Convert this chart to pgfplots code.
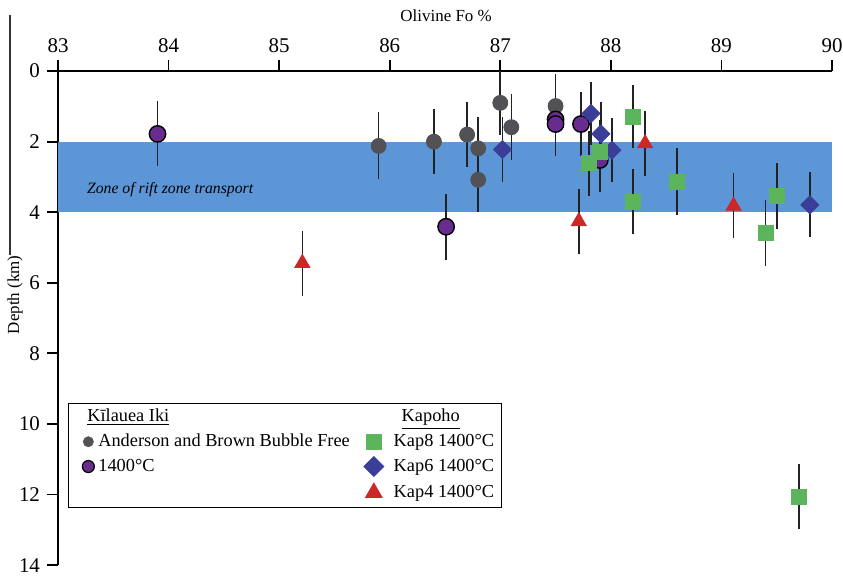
\documentclass[border=0pt]{standalone}
\usepackage{fontspec}
\setmainfont{Liberation Serif}
\usepackage{pgfplots}
\pgfplotsset{compat=1.18}
\usepackage{pgfplotstable}
\definecolor{zoneblue}{RGB}{92,150,214}
\definecolor{abgray}{RGB}{82,82,86}
\definecolor{kpurple}{RGB}{104,44,142}
\definecolor{kblue}{RGB}{58,62,152}
\definecolor{kgreen}{RGB}{92,180,92}
\definecolor{kred}{RGB}{204,40,40}
\definecolor{ebar}{RGB}{34,34,34}

\pgfplotstableread{
x y e
85.90 2.12 0.95
86.40 2.00 0.93
86.70 1.80 0.92
86.80 2.19 0.90
86.80 3.08 0.90
87.00 0.90 0.90
87.10 1.59 0.93
87.50 0.99 0.90
}\abdata
\pgfplotstableread{
x y e
83.90 1.78 0.92
86.51 4.41 0.93
87.50 1.37 0.92
87.50 1.50 0.92
87.73 1.50 0.92
87.90 2.52 0.90
}\kidata
\pgfplotstableread{
x y e
87.02 2.22 0.92
87.82 1.20 0.90
87.91 1.78 0.90
88.01 2.24 0.90
89.80 3.79 0.92
}\kapsix
\pgfplotstableread{
x y e
88.20 1.29 0.90
88.20 3.70 0.92
87.80 2.61 0.92
87.90 2.28 0.90
88.60 3.13 0.94
89.40 4.58 0.93
89.50 3.54 0.93
89.70 12.06 0.93
}\kapeight
\pgfplotstableread{
x y e
85.21 5.44 0.92
87.71 4.26 0.91
88.31 2.05 0.92
89.11 3.82 0.92
}\kapfour

\begin{document}
\begin{tikzpicture}
\begin{axis}[name=ax, scale only axis, width=387bp, height=247bp,
  xmin=83, xmax=90, ymin=0, ymax=14, y dir=reverse,
  axis x line*=top, axis y line*=left,
  xtick={83,...,90}, ytick={0,2,...,14},
  tick align=outside, major tick length=5.5bp,
  every tick/.style={black, line width=0.9bp},
  axis line style={black, line width=0.9bp},
  ticklabel style={font=\fontsize{10.5}{12}\selectfont},
  /pgf/number format/assume math mode=true,
  xlabel={Olivine Fo \%}, ylabel={Depth (km)},
  label style={font=\fontsize{8.5}{10}\selectfont},
  xlabel style={at={(axis cs:86.51,-1.56)}, anchor=center},
  ylabel style={at={(axis cs:82.611,6.34)}, anchor=center},
  clip=false,
  legend columns=2, legend cell align=left,
  legend style={at={(axis cs:83.09,9.40)}, anchor=north west, draw=black,
    fill=white, font=\fontsize{9.2}{11}\selectfont,
    /tikz/every even column/.append style={column sep=1.5bp},
    row sep=0.7bp, inner xsep=1.5bp, inner ysep=0.8bp},
  error bars/error mark=none,
]
\addplot[draw=none, fill=zoneblue, forget plot] coordinates {(83,2) (90,2) (90,4) (83,4)} -- cycle;
\node[anchor=west, font=\fontsize{7.9}{9}\selectfont\itshape] at (axis cs:83.199,3.37) {Zone of rift zone transport};

\addplot[only marks, mark=*, mark size=3.75bp, mark options={fill=abgray, draw=abgray}, forget plot,
  error bars/.cd, y dir=both, y explicit, error bar style={ebar, line width=0.8bp}]
  table[x=x, y=y, y error=e]{\abdata};
\addplot[only marks, mark=*, mark size=4.1bp, mark options={fill=kpurple, draw=black, line width=0.7bp}, forget plot,
  error bars/.cd, y dir=both, y explicit, error bar style={ebar, line width=0.8bp}]
  table[x=x, y=y, y error=e]{\kidata};
\addplot[only marks, mark=square*, mark size=3.2bp, mark options={fill=kblue, draw=kblue, rotate=45}, forget plot,
  error bars/.cd, y dir=both, y explicit, error bar style={ebar, line width=0.8bp}]
  table[x=x, y=y, y error=e]{\kapsix};
\addplot[only marks, mark=square*, mark size=3.75bp, mark options={fill=kgreen, draw=kgreen}, forget plot,
  error bars/.cd, y dir=both, y explicit, error bar style={ebar, line width=0.8bp}]
  table[x=x, y=y, y error=e]{\kapeight};
\addplot[only marks, mark=triangle*, mark size=4.33bp, mark options={fill=kred, draw=kred}, forget plot,
  error bars/.cd, y dir=both, y explicit, error bar style={ebar, line width=0.8bp}]
  table[x=x, y=y, y error=e]{\kapfour};

\draw[black!80, line width=0.6bp] (axis cs:82.566,-1.59) -- (axis cs:82.566,5.2);

\addlegendimage{empty legend}
\addlegendimage{empty legend}
\addlegendimage{only marks, mark=*, mark size=2.5bp, mark options={fill=abgray, draw=abgray}}
\addlegendimage{only marks, mark=square*, mark size=3.75bp, mark options={fill=kgreen, draw=kgreen}}
\addlegendimage{only marks, mark=*, mark size=3bp, mark options={fill=kpurple, draw=black, line width=0.6bp}}
\addlegendimage{only marks, mark=square*, mark size=3.5bp, mark options={fill=kblue, draw=kblue, rotate=45}}
\addlegendimage{empty legend}
\addlegendimage{only marks, mark=triangle*, mark size=4.8bp, mark options={fill=kred, draw=kred}}
\legend{\hspace{-5.5bp}\underline{Kīlauea Iki}, \hspace{7bp}\underline{Kapoho}, Anderson and Brown Bubble Free, \hspace{3bp}Kap8 1400°C, 1400°C, \hspace{3bp}Kap6 1400°C, \strut, \hspace{3bp}Kap4 1400°C}
\end{axis}
\pgfresetboundingbox
\path ([xshift=-29bp,yshift=35.55bp]ax.north west) rectangle ([xshift=5.5bp,yshift=-5.5bp]ax.south east);
\end{tikzpicture}
\end{document}
